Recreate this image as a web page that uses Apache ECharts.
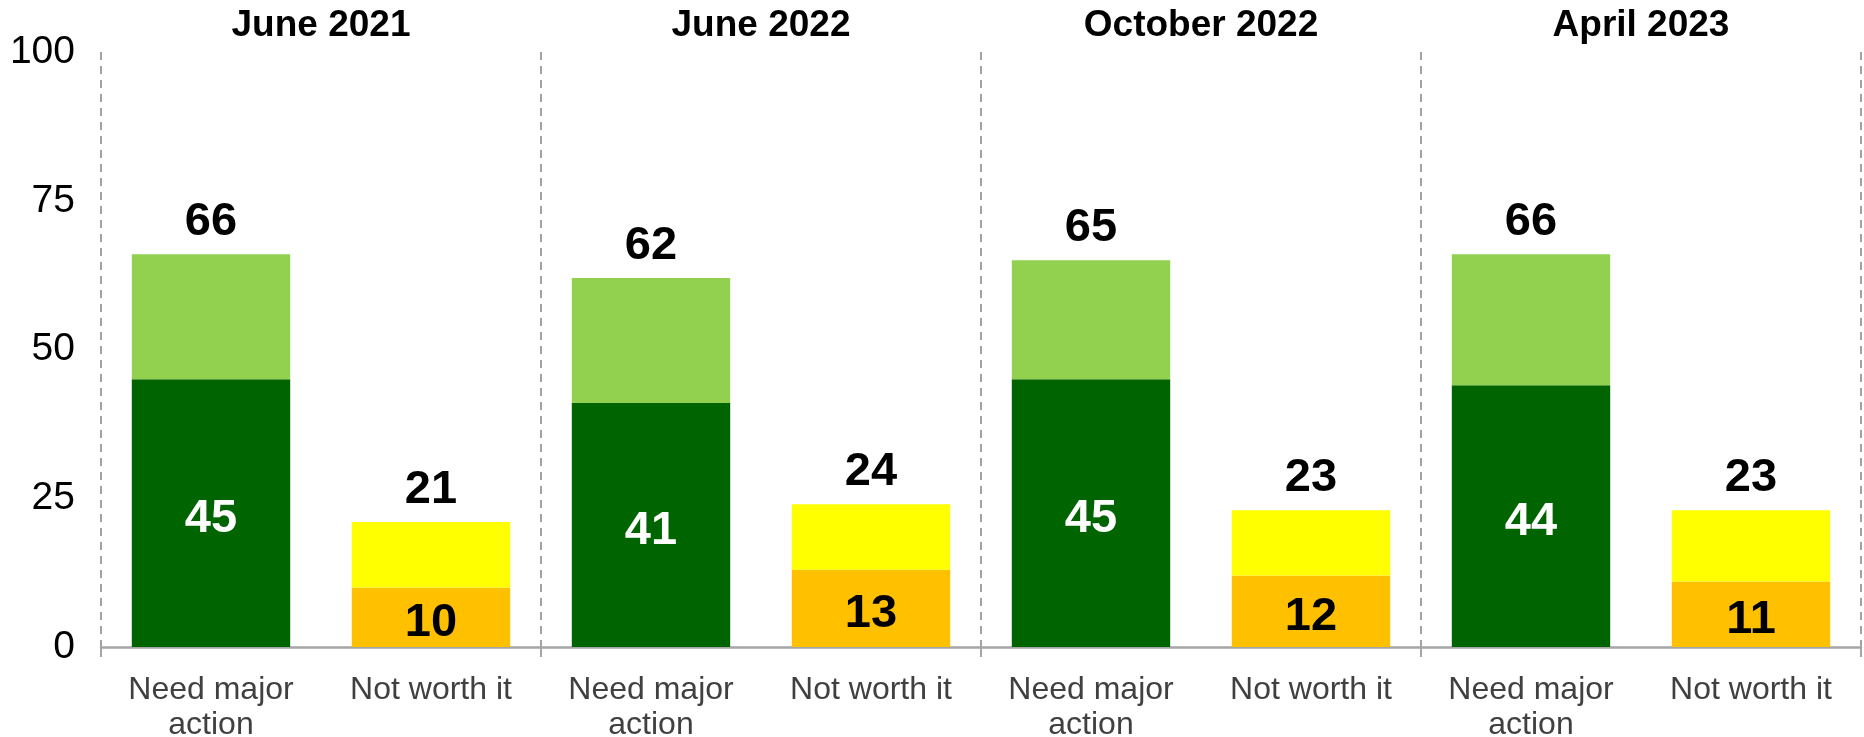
<!DOCTYPE html>
<html>
<head>
<meta charset="utf-8">
<script src="https://cdn.jsdelivr.net/npm/echarts@6/dist/echarts.min.js"></script>
<style>
html,body{margin:0;padding:0;background:#fff;}
#chart{width:1864px;height:737px;}
</style>
</head>
<body>
<div id="chart"></div>
<script>
// ---- data ----
var periods = ['June 2021', 'June 2022', 'October 2022', 'April 2023'];
var barLabels = ['Need major\naction', 'Not worth it'];
var majorStrong = [45, 41, 45, 44];   // dark green segment
var majorTotal  = [66, 62, 65, 66];   // total "Need major action"
var notStrong   = [10, 13, 12, 11];   // orange segment
var notTotal    = [21, 24, 23, 23];   // total "Not worth it"
var yTicks = [0, 25, 50, 75, 100];

// ---- build category data ----
var categories = [];
var darkData = [], lightData = [], orangeData = [], yellowData = [];
for (var i = 0; i < periods.length; i++) {
  categories.push(barLabels[0], barLabels[1]);
  darkData.push(majorStrong[i], '-');
  lightData.push(majorTotal[i] - majorStrong[i], '-');
  orangeData.push('-', notStrong[i]);
  yellowData.push('-', notTotal[i] - notStrong[i]);
}
var totals = [];
for (var j = 0; j < periods.length; j++) { totals.push(majorTotal[j], notTotal[j]); }

var FONT = "'Liberation Sans', Arial, sans-serif";
var chart = echarts.init(document.getElementById('chart'));
chart.setOption({
  animation: false,
  backgroundColor: '#ffffff',
  grid: { left: 101, right: 3, top: 52, bottom: 90, containLabel: false, outerBoundsMode: 'none' },
  xAxis: [
    {
      type: 'category', data: categories, position: 'bottom',
      axisLine: { show: true, lineStyle: { color: '#A6A6A6', width: 2.5 } },
      axisTick: { show: false },
      splitLine: { show: false },
      axisLabel: { interval: 0, fontFamily: FONT, fontSize: 32, color: '#404040', lineHeight: 35, margin: 26 }
    },
    {
      type: 'value', min: 0, max: periods.length, interval: 1, position: 'bottom',
      axisLine: { show: false },
      axisTick: { show: true, length: 10, lineStyle: { color: '#A6A6A6', width: 2 } },
      axisLabel: { show: false },
      splitLine: { show: true, lineStyle: { color: '#8C8C8C', width: 1.6, type: [8, 6] } }
    },
    {
      type: 'category', data: periods, position: 'top',
      axisLine: { show: false }, axisTick: { show: false }, splitLine: { show: false },
      axisLabel: { interval: 0, fontFamily: FONT, fontSize: 37, fontWeight: 'bold', color: '#000', margin: 8 }
    }
  ],
  yAxis: {
    type: 'value', min: yTicks[0], max: yTicks[yTicks.length - 1], interval: 25,
    axisLine: { show: false }, axisTick: { show: false }, splitLine: { show: false },
    axisLabel: { fontFamily: FONT, fontSize: 39, color: '#000', margin: 26, padding: [6, 0, 0, 0] }
  },
  series: [
    {
      name: 'major strong', type: 'bar', stack: 'all', xAxisIndex: 0, data: darkData, barWidth: '72%',
      itemStyle: { color: '#006400' },
      label: { show: true, position: 'inside', offset: [0, 6], fontFamily: FONT, fontSize: 47, fontWeight: 'bold', color: '#ffffff' }
    },
    {
      name: 'major rest', type: 'bar', stack: 'all', xAxisIndex: 0, data: lightData, barWidth: '72%',
      itemStyle: { color: '#92D050' },
      label: { show: true, position: 'top', distance: 9, fontFamily: FONT, fontSize: 47, fontWeight: 'bold', color: '#000',
        formatter: function (p) { return totals[p.dataIndex]; } }
    },
    {
      name: 'not strong', type: 'bar', stack: 'all', xAxisIndex: 0, data: orangeData, barWidth: '72%',
      itemStyle: { color: '#FFC000' },
      label: { show: true, position: 'inside', offset: [0, 6], fontFamily: FONT, fontSize: 47, fontWeight: 'bold', color: '#000' }
    },
    {
      name: 'not rest', type: 'bar', stack: 'all', xAxisIndex: 0, data: yellowData, barWidth: '72%',
      itemStyle: { color: '#FFFF00' },
      label: { show: true, position: 'top', distance: 9, fontFamily: FONT, fontSize: 47, fontWeight: 'bold', color: '#000',
        formatter: function (p) { return totals[p.dataIndex]; } }
    }
  ]
});
</script>
</body>
</html>
